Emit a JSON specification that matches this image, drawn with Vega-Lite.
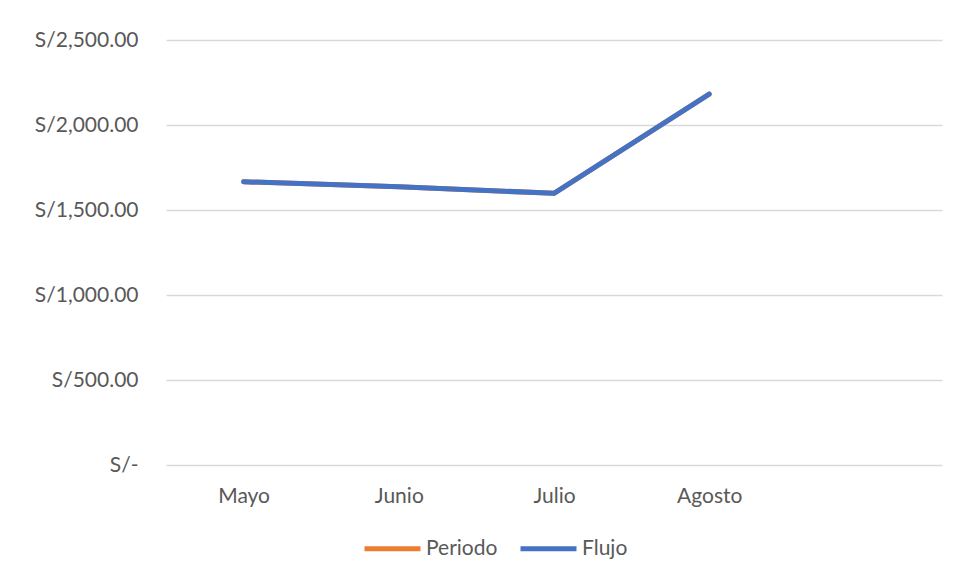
{
  "$schema": "https://vega.github.io/schema/vega-lite/v6.json",
  "autosize": "none",
  "width": 776,
  "height": 425,
  "padding": {"left": 166, "top": 40, "right": 18, "bottom": 120},
  "background": "white",
  "config": {
    "view": {"stroke": null},
    "font": "Lato",
    "axis": {"labelFont": "Lato", "labelColor": "#595959", "labelFontSize": 21},
    "legend": {"labelFont": "Lato", "labelColor": "#595959", "labelFontSize": 21}
  },
  "data": {
    "values": [
      {"mes": "Mayo", "serie": "Periodo", "monto": 1666},
      {"mes": "Junio", "serie": "Periodo", "monto": 1637},
      {"mes": "Julio", "serie": "Periodo", "monto": 1598},
      {"mes": "Agosto", "serie": "Periodo", "monto": 2182},
      {"mes": "Mayo", "serie": "Flujo", "monto": 1666},
      {"mes": "Junio", "serie": "Flujo", "monto": 1637},
      {"mes": "Julio", "serie": "Flujo", "monto": 1598},
      {"mes": "Agosto", "serie": "Flujo", "monto": 2182}
    ]
  },
  "mark": {"type": "line", "strokeWidth": 5, "strokeCap": "round", "strokeJoin": "round"},
  "encoding": {
    "x": {
      "field": "mes",
      "type": "ordinal",
      "sort": null,
      "scale": {"type": "point", "domain": ["Mayo", "Junio", "Julio", "Agosto", " "], "padding": 0.5},
      "axis": {"title": null, "domain": false, "ticks": false, "grid": false, "labelAngle": 0, "labelPadding": 20}
    },
    "y": {
      "field": "monto",
      "type": "quantitative",
      "scale": {"domain": [0, 2500], "nice": false},
      "axis": {
        "title": null,
        "domain": false,
        "ticks": false,
        "values": [0, 500, 1000, 1500, 2000, 2500],
        "labelExpr": "datum.value == 0 ? 'S/-' : 'S/' + format(datum.value, ',.2f')",
        "labelPadding": 28,
        "gridColor": "#d9d9d9",
        "gridWidth": 1.5
      }
    },
    "color": {
      "field": "serie",
      "type": "nominal",
      "sort": ["Periodo", "Flujo"],
      "scale": {"domain": ["Periodo", "Flujo"], "range": ["#ED7D31", "#4472C4"]},
      "legend": {
        "title": null,
        "orient": "none",
        "direction": "horizontal",
        "legendX": 196,
        "legendY": 478,
        "symbolType": "stroke",
        "symbolSize": 3136,
        "symbolStrokeWidth": 5,
        "labelOffset": 3,
        "columnPadding": 12
      }
    }
  }
}
